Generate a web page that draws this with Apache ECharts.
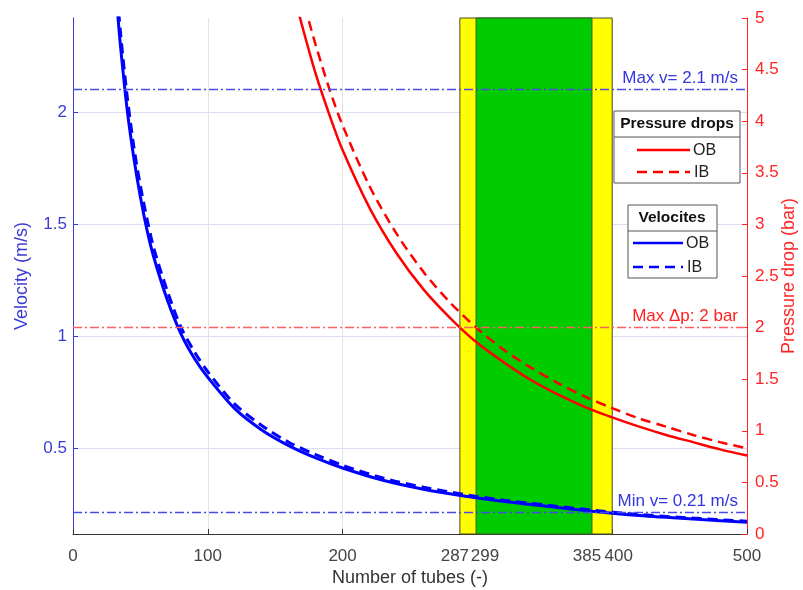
<!DOCTYPE html>
<html>
<head>
<meta charset="utf-8">
<script src="https://cdn.jsdelivr.net/npm/echarts@6/dist/echarts.min.js"></script>
<style>
html, body { margin: 0; padding: 0; background: #fff; }
#main { width: 803px; height: 590px; }
</style>
</head>
<body>
<div id="main"></div>
<script>
var myChart = echarts.init(document.getElementById('main'));

// x tick labels (number of tubes)
var xTicks = [0, 100, 200, 287, 299, 385, 400, 500];
// acceptable design window: outer (yellow) and inner (green) limits
var outerBand = [287, 400];
var innerBand = [299, 385];

// velocity curves (m/s)
var nVel = [33, 35, 40, 45, 50, 55, 60, 70, 80, 90, 100, 120, 140, 160, 180, 200, 230, 260, 290, 320, 350, 385, 420, 460, 500];
var velOB = [2.45, 2.31, 2.02, 1.80, 1.62, 1.47, 1.35, 1.16, 1.01, 0.90, 0.815, 0.675, 0.58, 0.51, 0.455, 0.41, 0.355, 0.315, 0.285, 0.26, 0.24, 0.217, 0.198, 0.182, 0.168];
var velIB = [2.52, 2.37, 2.08, 1.85, 1.67, 1.52, 1.39, 1.20, 1.04, 0.93, 0.84, 0.695, 0.60, 0.525, 0.47, 0.422, 0.365, 0.324, 0.292, 0.266, 0.245, 0.222, 0.202, 0.186, 0.172];

// pressure drop curves (bar)
var nDpOB = [168, 180, 190, 200, 220, 240, 260, 280, 300, 320, 340, 360, 380, 400, 420, 440, 460, 480, 500];
var dpOB = [5.02, 4.46, 4.07, 3.72, 3.16, 2.72, 2.37, 2.09, 1.85, 1.66, 1.49, 1.35, 1.23, 1.13, 1.04, 0.96, 0.89, 0.82, 0.76];
var nDpIB = [175, 180, 190, 200, 220, 240, 260, 280, 300, 320, 340, 360, 380, 400, 420, 440, 460, 480, 500];
var dpIB = [4.97, 4.74, 4.32, 3.96, 3.37, 2.91, 2.54, 2.24, 1.99, 1.78, 1.61, 1.46, 1.33, 1.22, 1.12, 1.04, 0.96, 0.89, 0.83];

// limits
var maxVel = 2.1;
var minVel = 0.21;
var maxDp = 2;
var velTicks = [0.5, 1, 1.5, 2];

function pairs(xs, ys) {
    return xs.map(function (x, i) { return [x, ys[i]]; });
}

var FONT = 'Liberation Sans';
var BLUE = '#0000ff';
var RED = '#ff0000';
var AXBLUE = '#3c3cd2';
var AXRED = '#ff2525';

var option = {
    animation: false,
    textStyle: { fontFamily: FONT },
    grid: { left: 73, right: 56, top: 18, bottom: 56, outerBoundsMode: 'none', containLabel: false },
    xAxis: {
        type: 'value',
        min: 0,
        max: 500,
        name: 'Number of tubes (-)',
        nameLocation: 'middle',
        nameGap: 35,
        nameMoveOverlap: false,
        nameTextStyle: { color: '#333', fontSize: 18, fontFamily: FONT },
        axisLine: { lineStyle: { color: '#333' } },
        axisTick: { inside: true, length: 5, customValues: xTicks, lineStyle: { color: '#333' } },
        axisLabel: {
            customValues: xTicks,
            color: '#444',
            fontSize: 17,
            margin: 14,
            hideOverlap: false,
            formatter: function (v) {
                if (v === 287 || v === 385) return '{l|' + v + '}';
                if (v === 299) return '{r|' + v + '}';
                if (v === 400) return '{s|' + v + '}';
                return String(v);
            },
            rich: {
                l: { fontSize: 17, color: '#444', padding: [0, 10, 0, 0] },
                r: { fontSize: 17, color: '#444', padding: [0, 0, 0, 18] },
                s: { fontSize: 17, color: '#444', padding: [0, 0, 0, 13] }
            }
        },
        splitLine: { show: true, lineStyle: { color: '#e2e2e2' } }
    },
    yAxis: [{
        type: 'value',
        min: 0.115,
        max: 2.42,
        position: 'left',
        name: 'Velocity (m/s)',
        nameLocation: 'middle',
        nameRotate: 90,
        nameGap: 42,
        nameMoveOverlap: false,
        nameTextStyle: { color: AXBLUE, fontSize: 18, fontFamily: FONT },
        axisLine: { show: true, lineStyle: { color: AXBLUE } },
        axisTick: { show: true, inside: true, length: 5, customValues: velTicks },
        axisLabel: { customValues: velTicks, color: AXBLUE, fontSize: 17, margin: 6 },
        splitLine: { show: true, lineStyle: { color: '#dcdcf2' } }
    }, {
        type: 'value',
        min: 0,
        max: 5,
        interval: 0.5,
        position: 'right',
        name: 'Pressure drop (bar)',
        nameLocation: 'middle',
        nameRotate: 90,
        nameGap: 33,
        nameMoveOverlap: false,
        nameTextStyle: { color: AXRED, fontSize: 18, fontFamily: FONT },
        axisLine: { show: true, lineStyle: { color: AXRED } },
        axisTick: { show: true, inside: true, length: 5 },
        axisLabel: { color: AXRED, fontSize: 17, margin: 8 },
        splitLine: { show: false }
    }],
    series: [{
        name: 'bands',
        type: 'line',
        data: [],
        z: 1,
        silent: true,
        markArea: {
            silent: true,
            data: [
                [{ xAxis: outerBand[0], itemStyle: { color: '#ffff00', borderColor: '#4a4a2a', borderWidth: 1 } }, { xAxis: outerBand[1] }],
                [{ xAxis: innerBand[0], itemStyle: { color: '#00cc00', borderColor: '#3a5a2a', borderWidth: 1 } }, { xAxis: innerBand[1] }]
            ]
        }
    }, {
        name: 'Velocity OB',
        type: 'line',
        yAxisIndex: 0,
        data: pairs(nVel, velOB),
        smooth: 0.3,
        showSymbol: false,
        z: 4,
        lineStyle: { color: BLUE, width: 3 },
        markLine: {
            silent: true,
            symbol: 'none',
            lineStyle: { color: '#4a4ae6', width: 1.3, type: [9, 3, 2, 3] },
            label: { position: 'insideEndTop', color: '#3535e0', fontSize: 17, fontFamily: FONT, distance: 3, padding: [0, 6, 0, 0] },
            data: [
                { yAxis: maxVel, label: { formatter: 'Max v= ' + maxVel + ' m/s' } },
                { yAxis: minVel, label: { formatter: 'Min v= ' + minVel + ' m/s' } }
            ]
        }
    }, {
        name: 'Velocity IB',
        type: 'line',
        yAxisIndex: 0,
        data: pairs(nVel, velIB),
        smooth: 0.3,
        showSymbol: false,
        z: 4,
        lineStyle: { color: BLUE, width: 3, type: [10, 6] }
    }, {
        name: 'Pressure OB',
        type: 'line',
        yAxisIndex: 1,
        data: pairs(nDpOB, dpOB),
        smooth: 0.3,
        showSymbol: false,
        z: 3,
        lineStyle: { color: RED, width: 2.5 },
        markLine: {
            silent: true,
            symbol: 'none',
            lineStyle: { color: '#ff6060', width: 1.3, type: [9, 3, 2, 3] },
            label: { position: 'insideEndTop', color: '#ff2020', fontSize: 17, fontFamily: FONT, distance: 3, padding: [0, 6, 0, 0] },
            data: [
                { yAxis: maxDp, label: { formatter: 'Max \u0394p: ' + maxDp + ' bar' } }
            ]
        }
    }, {
        name: 'Pressure IB',
        type: 'line',
        yAxisIndex: 1,
        data: pairs(nDpIB, dpIB),
        smooth: 0.3,
        showSymbol: false,
        z: 3,
        lineStyle: { color: RED, width: 2.5, type: [10, 6] }
    }],
    graphic: [
        // Pressure drops legend box
        { type: 'rect', z: 100, shape: { x: 614, y: 111, width: 126, height: 72 }, style: { fill: '#fff', stroke: '#555', lineWidth: 1 } },
        { type: 'line', z: 101, shape: { x1: 614, y1: 137, x2: 740, y2: 137 }, style: { stroke: '#555', lineWidth: 1 } },
        { type: 'text', z: 101, x: 677, y: 124, style: { text: 'Pressure drops', font: 'bold 15.5px ' + FONT, fill: '#111', align: 'center', verticalAlign: 'middle' } },
        { type: 'line', z: 101, shape: { x1: 637, y1: 150, x2: 690, y2: 150 }, style: { stroke: RED, lineWidth: 2.5 } },
        { type: 'text', z: 101, x: 693, y: 151, style: { text: 'OB', font: '16px ' + FONT, fill: '#222', verticalAlign: 'middle' } },
        { type: 'line', z: 101, shape: { x1: 637, y1: 172, x2: 690, y2: 172 }, style: { stroke: RED, lineWidth: 2.5, lineDash: [10, 6] } },
        { type: 'text', z: 101, x: 694, y: 173, style: { text: 'IB', font: '16px ' + FONT, fill: '#222', verticalAlign: 'middle' } },
        // Velocites legend box
        { type: 'rect', z: 100, shape: { x: 628, y: 205, width: 89, height: 73 }, style: { fill: '#fff', stroke: '#555', lineWidth: 1 } },
        { type: 'line', z: 101, shape: { x1: 628, y1: 231, x2: 717, y2: 231 }, style: { stroke: '#555', lineWidth: 1 } },
        { type: 'text', z: 101, x: 672, y: 218, style: { text: 'Velocites', font: 'bold 15.5px ' + FONT, fill: '#111', align: 'center', verticalAlign: 'middle' } },
        { type: 'line', z: 101, shape: { x1: 633, y1: 243, x2: 683, y2: 243 }, style: { stroke: BLUE, lineWidth: 2.5 } },
        { type: 'text', z: 101, x: 686, y: 244, style: { text: 'OB', font: '16px ' + FONT, fill: '#222', verticalAlign: 'middle' } },
        { type: 'line', z: 101, shape: { x1: 633, y1: 267, x2: 683, y2: 267 }, style: { stroke: BLUE, lineWidth: 2.5, lineDash: [10, 6] } },
        { type: 'text', z: 101, x: 687, y: 268, style: { text: 'IB', font: '16px ' + FONT, fill: '#222', verticalAlign: 'middle' } }
    ]
};

myChart.setOption(option);

window.onresize = function () {
    myChart.resize();
};
</script>
</body>
</html>
